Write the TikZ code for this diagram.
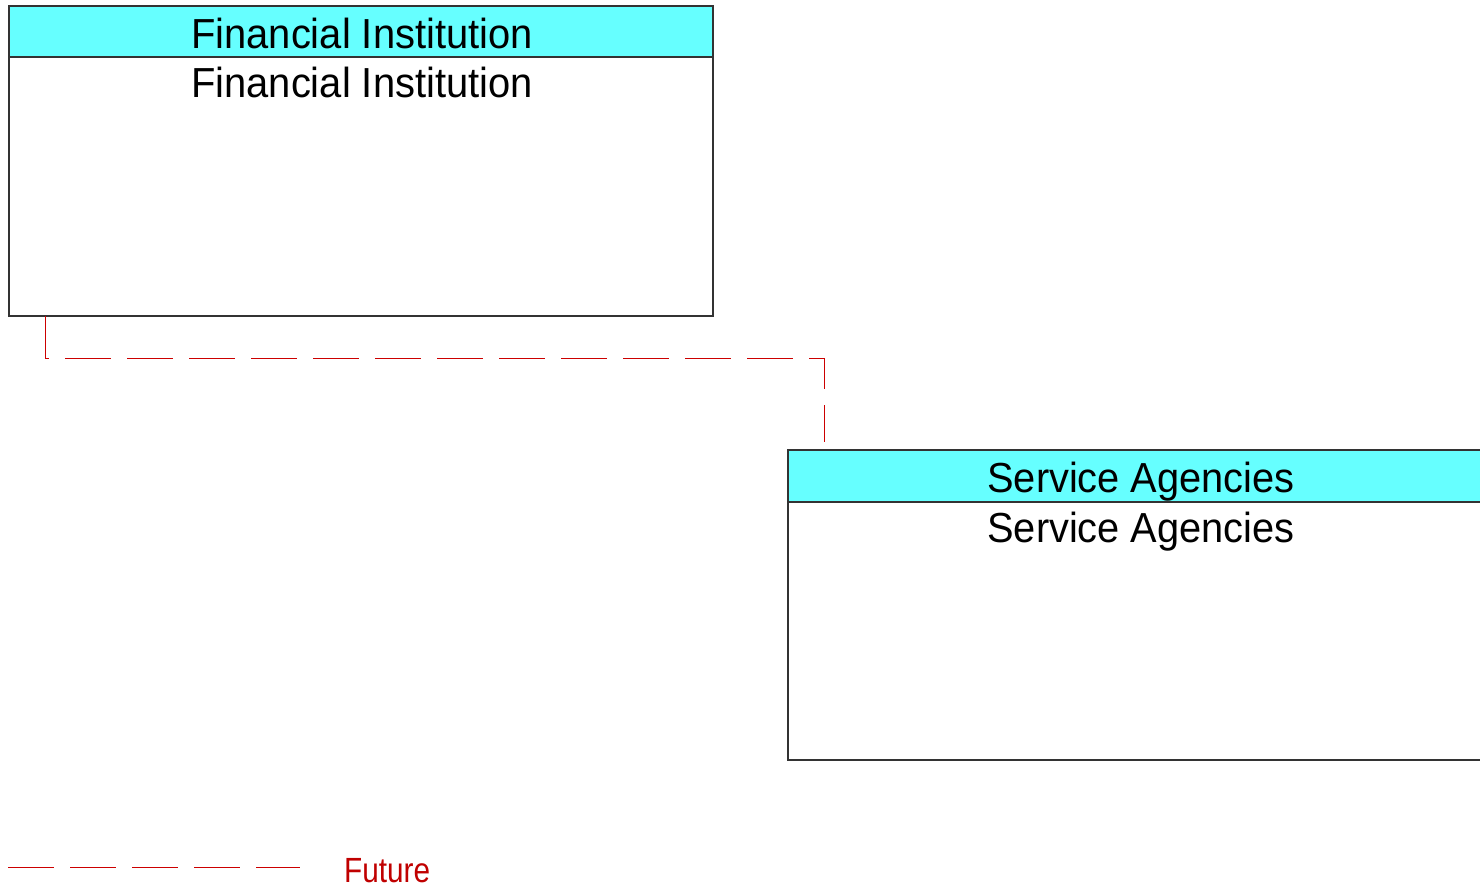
\documentclass[tikz,border=0pt]{standalone}
\usepackage{fontspec}
\setmainfont{Liberation Sans}
\definecolor{hdr}{RGB}{102,255,255}
\definecolor{flow}{RGB}{204,0,0}
\definecolor{legtxt}{RGB}{192,0,0}
\begin{document}
\begin{tikzpicture}[x=1pt,y=-1pt,
  box/.style={draw=black!80,line width=1.2pt,fill=white},
  head/.style={draw=black!80,line width=1.2pt,fill=hdr},
  lbl/.style={font=\fontsize{42}{46}\selectfont,anchor=base,inner sep=0pt},
  leg/.style={font=\fontsize{35}{40}\selectfont,anchor=base west,inner sep=0pt,text=legtxt},
  future/.style={draw=flow,line width=1pt,dash pattern=on 46pt off 16pt}]
\useasboundingbox (0,0) rectangle (1480,887);
\begin{scope}
\clip (0,0) rectangle (1480,887);
% Financial Institution
\draw[box] (9,6) rectangle (713,316);
\draw[head] (9,6) rectangle (713,57);
\node[lbl] (fih) at (362,48) {\scalebox{0.95}[1]{Financial Institution}};
\node[lbl] (fib) at (362,97) {\scalebox{0.95}[1]{Financial Institution}};
\coordinate (fi) at (45,316);
% Service Agencies
\draw[box] (788,450) rectangle (1494,760);
\draw[head] (788,450) rectangle (1494,502);
\node[lbl] (sah) at (1141,492) {\scalebox{0.947}[1]{Service Agencies}};
\node[lbl] (sab) at (1141,542) {\scalebox{0.947}[1]{Service Agencies}};
\coordinate (sa) at (824,442);
\end{scope}
% connector
\draw[future] (fi) -- (45,358) -- (824,358) -- (sa);
% legend
\coordinate (l1) at (8,867);
\coordinate (l2) at (300,867);
\draw[future] (l1) -- (l2);
\node[leg] (fut) at (344,882) {\scalebox{0.85}[1]{Future}};
\end{tikzpicture}
\end{document}
